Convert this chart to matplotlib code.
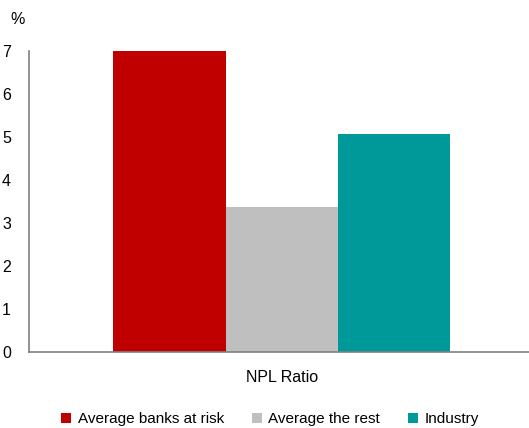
import matplotlib
matplotlib.use("Agg")
import matplotlib.pyplot as plt
from matplotlib.patches import Patch

plt.rcParams['font.family'] = ['Liberation Sans', 'DejaVu Sans']

# NPL ratio (%) by bank group
series = ["Average banks at risk", "Average the rest", "Industry"]
values = [7.0, 3.37, 5.07]
colors = ["#C00000", "#BFBFBF", "#009999"]
category = "NPL Ratio"
yticks = [0, 1, 2, 3, 4, 5, 6, 7]

fig = plt.figure(figsize=(5.29, 4.28), dpi=100)
ax = fig.add_axes([29 / 529, 1 - 352 / 428, 500 / 529, 301 / 428])

positions = [-1, 0, 1]
for pos, val, col in zip(positions, values, colors):
    ax.bar(pos, val, width=1.0, color=col, linewidth=0, zorder=2)

ax.set_xlim(-2.25, 2.2)
ax.set_ylim(0, 7)
ax.set_yticks(yticks)
ax.set_yticklabels([str(t) for t in yticks])
ax.set_xticks([0])
ax.set_xticklabels([category])
ax.tick_params(axis='both', length=0, labelsize=11.5, colors='black')
ax.tick_params(axis='y', pad=13)
ax.tick_params(axis='x', pad=13)

for side in ['top', 'right']:
    ax.spines[side].set_visible(False)
for side in ['left', 'bottom']:
    ax.spines[side].set_color('#808080')
    ax.spines[side].set_linewidth(1.2)
ax.spines['bottom'].set_zorder(3)

fig.text(10 / 529, 1 - 19 / 428, "%", fontsize=11.5, ha='left', va='center')

handles = [Patch(facecolor=c, edgecolor='none') for c in colors]
fig.legend(handles, series, loc='center', bbox_to_anchor=(270 / 529, 1 - 419 / 428),
           ncol=3, frameon=False, fontsize=11, handlelength=0.65, handleheight=0.65,
           handletextpad=0.45, columnspacing=1.8, borderpad=0)

fig.savefig("out.png", dpi=100)
